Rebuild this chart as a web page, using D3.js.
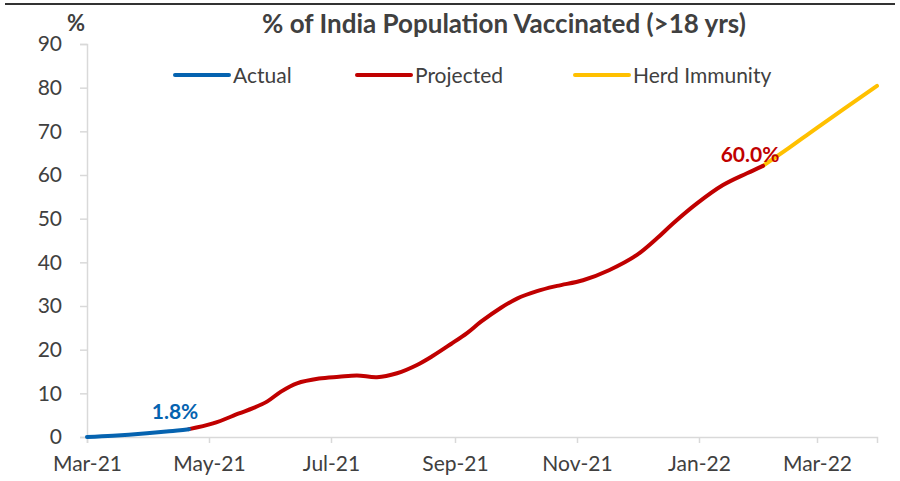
<!DOCTYPE html>
<html>
<head>
<meta charset="utf-8">
<script src="https://cdn.jsdelivr.net/npm/d3@7"></script>
<style>
  body { margin: 0; background: #fff; }
  svg { display: block; font-family: Lato, "Open Sans", sans-serif; }
</style>
</head>
<body>
<div id="chart"></div>
<script>
// data
const actualDates = ["2021-03-01", "2021-03-14", "2021-03-31", "2021-04-11", "2021-04-21"];
const actualValues = [0, 0.3, 0.85, 1.3, 1.8];

const projectedDates = [
  "2021-04-21", "2021-05-03", "2021-05-16", "2021-05-23", "2021-05-30", "2021-06-06",
  "2021-06-14", "2021-06-25", "2021-07-05", "2021-07-14", "2021-07-24", "2021-08-03",
  "2021-08-13", "2021-08-21", "2021-08-30", "2021-09-07", "2021-09-14", "2021-09-24",
  "2021-10-02", "2021-10-12", "2021-10-22", "2021-11-04", "2021-11-17", "2021-12-01",
  "2021-12-11", "2021-12-19", "2021-12-31", "2022-01-13", "2022-01-25", "2022-02-02"
];
const projectedValues = [
  1.8, 3.1, 5.4, 6.6, 8.1, 10.4,
  12.3, 13.4, 13.8, 14.1, 13.7, 14.6,
  16.5, 18.6, 21.3, 23.8, 26.4, 29.6,
  31.7, 33.4, 34.6, 35.9, 38.2, 41.7,
  45.5, 48.9, 53.5, 57.7, 60.4, 62.1
];

const herdDates = ["2022-02-02", "2022-02-15", "2022-03-01", "2022-03-31"];
const herdValues = [62.1, 66.2, 70.8, 80.4];

const yTicks = [0, 10, 20, 30, 40, 50, 60, 70, 80, 90];
const seriesNames = ["Actual", "Projected", "Herd Immunity"];
const seriesColors = ["#0563b0", "#c00000", "#ffc000"];

const W = 900, H = 481;
const margin = { top: 44, right: 23, bottom: 44, left: 87 };
const parse = d3.timeParse("%Y-%m-%d");

const svg = d3.select("#chart").append("svg")
  .attr("width", W).attr("height", H);

// frame line at the top
svg.append("line")
  .attr("x1", 5).attr("x2", 895).attr("y1", 4).attr("y2", 4)
  .attr("stroke", "#333").attr("stroke-width", 2);

const x = d3.scaleTime()
  .domain([parse("2021-03-01"), parse("2022-03-31")])
  .range([margin.left, W - margin.right]);
const y = d3.scaleLinear()
  .domain([0, 90])
  .range([437, 44]);

// y axis
const yAxis = svg.append("g")
  .attr("transform", `translate(${margin.left},0)`)
  .call(d3.axisLeft(y).tickValues(yTicks).tickSize(7).tickPadding(18));
yAxis.select(".domain").attr("stroke", "#d9d9d9").attr("stroke-width", 1.5);
yAxis.selectAll(".tick line").attr("stroke", "#d9d9d9").attr("stroke-width", 1.5);
yAxis.selectAll(".tick text")
  .attr("fill", "#404040").attr("font-size", 21)
  .attr("font-family", "Lato");

// x axis
const xTicks = d3.timeMonth.every(2).range(parse("2021-03-01"), parse("2022-04-01"));
const xAxis = svg.append("g")
  .attr("transform", `translate(0,${y(0)})`)
  .call(d3.axisBottom(x).tickValues(xTicks).tickSize(6).tickPadding(13)
    .tickFormat(d3.timeFormat("%b-%y")));
xAxis.select(".domain").attr("stroke", "#d9d9d9").attr("stroke-width", 1.5);
xAxis.selectAll(".tick line").attr("stroke", "#d9d9d9").attr("stroke-width", 1.5);
xAxis.selectAll(".tick text")
  .attr("fill", "#404040").attr("font-size", 21)
  .attr("font-family", "Lato");

// title and unit
svg.append("text")
  .attr("x", 504).attr("y", 33)
  .attr("text-anchor", "middle")
  .attr("font-size", 26).attr("font-weight", "bold").attr("fill", "#404040")
  .text("% of India Population Vaccinated (>18 yrs)");
svg.append("text")
  .attr("x", 76).attr("y", 31)
  .attr("text-anchor", "middle")
  .attr("font-size", 22).attr("font-weight", "bold").attr("fill", "#404040")
  .text("%");

// lines
const line = d3.line()
  .x((d) => x(d.date))
  .y((d) => y(d.value))
  .curve(d3.curveCatmullRom.alpha(0.5));

const series = [
  [actualDates, actualValues],
  [projectedDates, projectedValues],
  [herdDates, herdValues],
].map(([ds, vs]) => ds.map((d, i) => ({ date: parse(d), value: vs[i] })));

// draw herd first, then projected, actual on top
[2, 1, 0].forEach((i) => {
  svg.append("path")
    .datum(series[i])
    .attr("d", line)
    .attr("fill", "none")
    .attr("stroke", seriesColors[i])
    .attr("stroke-width", 4)
    .attr("stroke-linecap", "round");
});

// value labels
const lastActual = series[0][series[0].length - 1];
svg.append("text")
  .attr("x", x(lastActual.date) - 14).attr("y", y(lastActual.value) - 10)
  .attr("text-anchor", "middle")
  .attr("font-size", 21).attr("font-weight", "bold").attr("fill", seriesColors[0])
  .text(d3.format(".1f")(actualValues[actualValues.length - 1]) + "%");

const lastProj = series[1][series[1].length - 1];
svg.append("text")
  .attr("x", x(lastProj.date) - 13).attr("y", y(lastProj.value) - 4)
  .attr("text-anchor", "middle")
  .attr("font-size", 21).attr("font-weight", "bold").attr("fill", seriesColors[1])
  .text("60.0%");

// legend
const legendX = [175, 357, 575];
const legend = svg.append("g");
seriesNames.forEach((name, i) => {
  const g = legend.append("g").attr("transform", `translate(${legendX[i]},75)`);
  g.append("line")
    .attr("x1", 0).attr("x2", 54)
    .attr("stroke", seriesColors[i]).attr("stroke-width", 4)
    .attr("stroke-linecap", "round");
  g.append("text")
    .attr("x", 58).attr("y", 7.5)
    .attr("font-size", 21).attr("fill", "#404040")
    .text(name);
});
</script>
</body>
</html>
